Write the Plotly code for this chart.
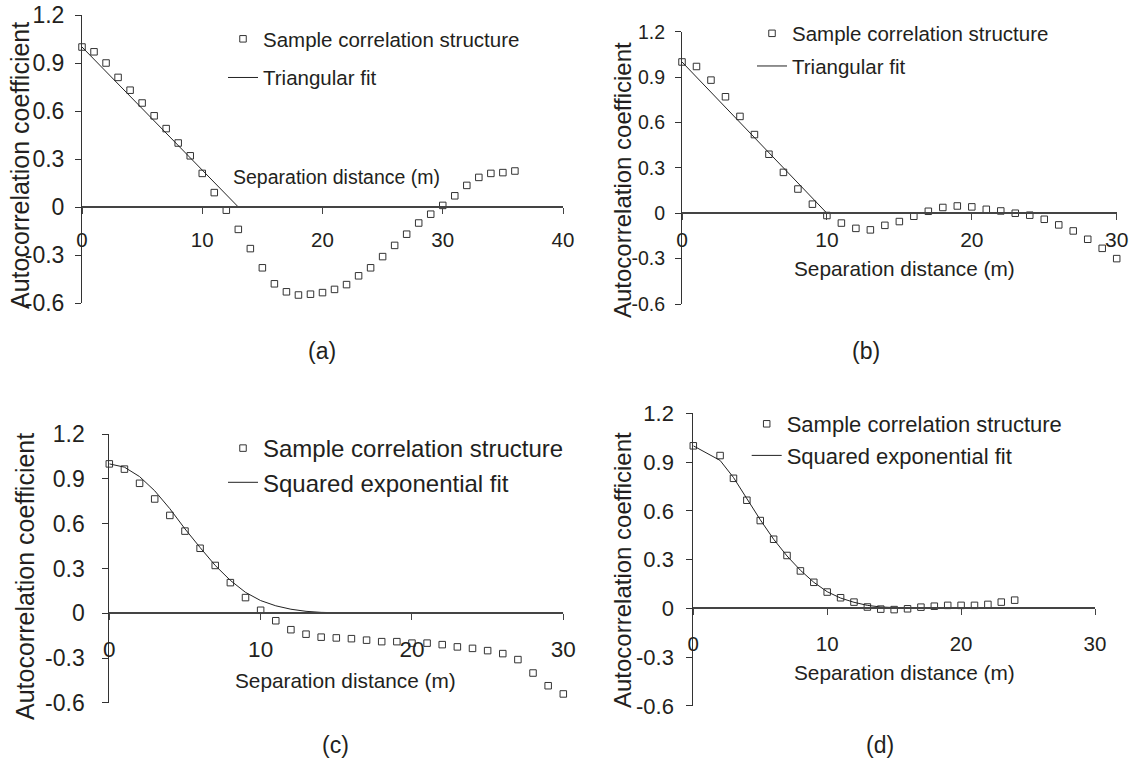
import plotly.graph_objects as go

W, H = 1130, 765
FONT = "Liberation Sans, Arial, sans-serif"
INK = "#231f20"

# ---- data ------------------------------------------------------------
# (a) triangular fit
a_lag = list(range(0, 37))
a_sample = [1.00, 0.97, 0.90, 0.81, 0.73, 0.65, 0.57, 0.49, 0.40, 0.32,
            0.21, 0.09, -0.02, -0.14, -0.26, -0.38, -0.48, -0.53, -0.55, -0.545,
            -0.535, -0.515, -0.485, -0.43, -0.38, -0.31, -0.24, -0.17, -0.10, -0.045,
            0.01, 0.07, 0.135, 0.185, 0.21, 0.215, 0.225]
a_fit_lag = list(range(0, 40))
a_fit = [1.0, 0.923, 0.846, 0.769, 0.692, 0.615, 0.538, 0.462, 0.385, 0.308,
         0.231, 0.154, 0.077, 0.0, 0.0, 0.0, 0.0, 0.0, 0.0, 0.0,
         0.0, 0.0, 0.0, 0.0, 0.0, 0.0, 0.0, 0.0, 0.0, 0.0,
         0.0, 0.0, 0.0, 0.0, 0.0, 0.0, 0.0, 0.0, 0.0, 0.0]

# (b) triangular fit
b_lag = list(range(0, 31))
b_sample = [1.00, 0.97, 0.88, 0.77, 0.64, 0.52, 0.39, 0.27, 0.16, 0.06,
            -0.015, -0.065, -0.10, -0.11, -0.08, -0.055, -0.02, 0.013, 0.038, 0.048,
            0.042, 0.026, 0.015, 0.0, -0.013, -0.04, -0.077, -0.117, -0.172, -0.232,
            -0.30]
b_fit = [1.0, 0.9, 0.8, 0.7, 0.6, 0.5, 0.4, 0.3, 0.2, 0.1,
         0.0, 0.0, 0.0, 0.0, 0.0, 0.0, 0.0, 0.0, 0.0, 0.0,
         0.0, 0.0, 0.0, 0.0, 0.0, 0.0, 0.0, 0.0, 0.0, 0.0,
         0.0]

# (c) squared exponential fit
c_lag = list(range(0, 31))
c_sample = [1.00, 0.965, 0.87, 0.765, 0.655, 0.55, 0.435, 0.32, 0.205, 0.105,
            0.02, -0.05, -0.11, -0.14, -0.16, -0.165, -0.17, -0.18, -0.19, -0.19,
            -0.20, -0.20, -0.21, -0.225, -0.235, -0.25, -0.27, -0.31, -0.40, -0.485,
            -0.54]
c_fit = [1.0, 0.978, 0.915, 0.82, 0.70, 0.565, 0.44, 0.32, 0.22, 0.14,
         0.085, 0.05, 0.027, 0.013, 0.006, 0.002, 0.001, 0.0, 0.0, 0.0,
         0.0, 0.0, 0.0, 0.0, 0.0, 0.0, 0.0, 0.0, 0.0, 0.0,
         0.0]

# (d) squared exponential fit
d_lag = [0, 2, 3, 4, 5, 6, 7, 8, 9, 10, 11, 12, 13, 14, 15, 16, 17, 18, 19, 20,
         21, 22, 23, 24]
d_sample = [1.00, 0.94, 0.80, 0.665, 0.54, 0.425, 0.325, 0.23, 0.16, 0.10,
            0.065, 0.038, 0.008, -0.005, -0.008, -0.003, 0.007, 0.013, 0.018, 0.018,
            0.018, 0.024, 0.038, 0.05]
d_fit = [1.0, 0.91, 0.805, 0.675, 0.545, 0.425, 0.322, 0.234, 0.16, 0.102,
         0.063, 0.037, 0.018, 0.008, 0.003, 0.001, 0.0, 0.0, 0.0, 0.0,
         0.0, 0.0, 0.0, 0.0]

y_ticks = [-0.6, -0.3, 0, 0.3, 0.6, 0.9, 1.2]
y_tick_text = ["-0.6", "-0.3", "0", "0.3", "0.6", "0.9", "1.2"]

sample_name = "Sample correlation structure"
panels = [
    # data, fit label, x range/ticks, plot box in pixels (left, right, top, bottom), styles
    dict(lag=a_lag, sample=a_sample, fit_lag=a_fit_lag, fit=a_fit, fit_name="Triangular fit",
         xmax=40, xticks=[0, 10, 20, 30, 40], box=(82, 563, 15, 303),
         ytick_fs=23, xtick_fs=20.5, x_std=9, y_std=6,
         leg=dict(left=223, top=19, fs=20.5, gap=9),
         ytitle=(20, 166, 25), xtitle=(336, 177, 19.5), tag=(322, 351, 23, "(a)")),
    dict(lag=b_lag, sample=b_sample, fit_lag=b_lag, fit=b_fit, fit_name="Triangular fit",
         xmax=30, xticks=[0, 10, 20, 30], box=(682, 1116.7, 31.7, 304),
         ytick_fs=19.5, xtick_fs=21, x_std=2, y_std=6,
         leg=dict(left=752, top=13.5, fs=20.5, gap=3),
         ytitle=(622, 180, 24), xtitle=(904, 268, 20.8), tag=(866, 351, 23, "(b)")),
    dict(lag=c_lag, sample=c_sample, fit_lag=c_lag, fit=c_fit, fit_name="Squared exponential fit",
         xmax=30, xticks=[0, 10, 20, 30], box=(109.3, 563.3, 434, 702.9),
         ytick_fs=23, xtick_fs=22.5, x_std=10, y_std=13,
         leg=dict(left=223, top=426, fs=24, gap=0),
         ytitle=(25, 577, 25), xtitle=(345, 680, 20.8), tag=(335, 745, 23, "(c)")),
    dict(lag=d_lag, sample=d_sample, fit_lag=d_lag, fit=d_fit, fit_name="Squared exponential fit",
         xmax=30, xticks=[0, 10, 20, 30], box=(693.3, 1095, 413.3, 705.8),
         ytick_fs=22, xtick_fs=20.5, x_std=11, y_std=8,
         leg=dict(left=746.7, top=403, fs=22, gap=0),
         ytitle=(622, 570, 24), xtitle=(904, 672, 20.8), tag=(880, 745, 23, "(d)")),
]

fig = go.Figure()
layout = dict(
    width=W, height=H,
    margin=dict(l=0, r=0, t=0, b=0, autoexpand=False),
    paper_bgcolor="white", plot_bgcolor="white",
    font=dict(family=FONT, color=INK),
    annotations=[],
)


def px(x):
    return x / W


def py(y):
    return 1 - y / H


for i, p in enumerate(panels, start=1):
    sfx = "" if i == 1 else str(i)
    leg_id = "legend" + sfx
    xa, ya = "x" + sfx, "y" + sfx
    left, right, top, bottom = p["box"]
    zero_y = top + (bottom - top) * (1.2 / 1.8)

    fig.add_trace(go.Scatter(
        x=p["lag"], y=p["sample"], mode="markers", name=sample_name,
        xaxis=xa, yaxis=ya, legend=leg_id, legendgroup=f"s{i}",
        marker=dict(symbol="square", size=6.5, color="white",
                    line=dict(color="#333333", width=1)),
        cliponaxis=False,
    ))
    fig.add_trace(go.Scatter(
        x=p["fit_lag"], y=p["fit"], mode="lines", name=p["fit_name"],
        xaxis=xa, yaxis=ya, legend=leg_id, legendgroup=f"f{i}",
        line=dict(color="#222222", width=1),
        cliponaxis=False,
    ))

    layout["xaxis" + sfx] = dict(
        domain=[px(left), px(right)], range=[0, p["xmax"]],
        anchor="free", position=py(zero_y),
        tickvals=p["xticks"], ticks="outside", ticklen=6, tickwidth=1, tickcolor="#444",
        showline=True, linecolor="#444", linewidth=1.5,
        showgrid=False, zeroline=False,
        tickfont=dict(size=p["xtick_fs"], family=FONT, color=INK),
        ticklabelstandoff=p["x_std"],
    )
    layout["yaxis" + sfx] = dict(
        domain=[py(bottom), py(top)], range=[-0.6, 1.2],
        anchor=xa,
        tickvals=y_ticks, ticktext=y_tick_text,
        ticks="outside", ticklen=6, tickwidth=1, tickcolor="#333",
        showline=True, linecolor="#333", linewidth=1,
        showgrid=False, zeroline=False,
        tickfont=dict(size=p["ytick_fs"], family=FONT, color=INK),
        ticklabelstandoff=p["y_std"],
    )

    lg = p["leg"]
    layout[leg_id] = dict(
        x=px(lg["left"]), y=py(lg["top"]), xanchor="left", yanchor="top",
        bgcolor="rgba(0,0,0,0)", borderwidth=0,
        font=dict(size=lg["fs"], family=FONT, color=INK),
        traceorder="grouped", tracegroupgap=lg["gap"],
        itemclick=False, itemdoubleclick=False,
    )

    tx, ty, tfs = p["ytitle"]
    layout["annotations"].append(dict(
        text="Autocorrelation coefficient", x=px(tx), y=py(ty), xref="paper", yref="paper",
        textangle=-90, showarrow=False, xanchor="center", yanchor="middle",
        font=dict(size=tfs, family=FONT, color=INK),
    ))
    sx, sy, sfs = p["xtitle"]
    layout["annotations"].append(dict(
        text="Separation distance (m)", x=px(sx), y=py(sy), xref="paper", yref="paper",
        showarrow=False, xanchor="center", yanchor="middle",
        font=dict(size=sfs, family=FONT, color=INK),
    ))
    gx, gy, gfs, gtxt = p["tag"]
    layout["annotations"].append(dict(
        text=gtxt, x=px(gx), y=py(gy), xref="paper", yref="paper",
        showarrow=False, xanchor="center", yanchor="middle",
        font=dict(size=gfs, family=FONT, color=INK),
    ))

fig.update_layout(**layout)
fig.write_html("out.html")
